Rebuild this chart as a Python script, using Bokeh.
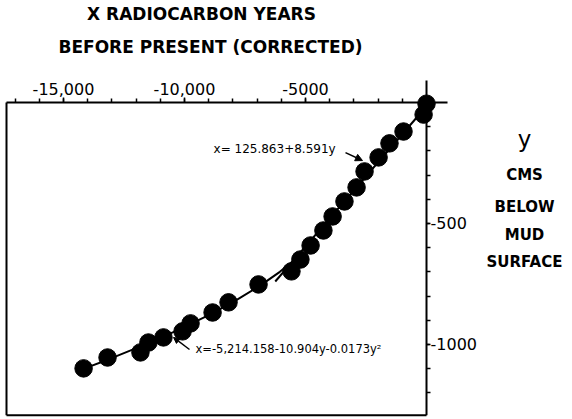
from bokeh.plotting import figure
from bokeh.models import LinearAxis, FixedTicker, Label, Arrow, NormalHead, Range1d
from bokeh.embed import file_html
from bokeh.resources import INLINE

# ---- data ----
years = [0, -120, -950, -1530, -1980, -2560, -2890, -3390, -3880, -4260, -4790,
         -5210, -5580, -6940, -8180, -8840, -9750, -10080, -10870, -11490,
         -11820, -13180, -14170]
depth = [-5, -50, -120, -169, -227, -285, -351, -409, -471, -529, -591,
         -649, -698, -752, -826, -868, -913, -946, -971, -992,
         -1033, -1054, -1099]

lin_fit_x = [130, -6250]
lin_fit_y = [0, -740]

quad_fit_x = [-5320, -6060, -6920, -7910, -9020, -10250, -11610, -13090, -14150]
quad_fit_y = [-640, -700, -760, -820, -880, -940, -1000, -1060, -1100]

x_major = [-15000, -10000, -5000]
x_labels = ["-15,000", "-10,000", "-5000"]
x_minor = [-17000, -16000, -15000, -14000, -13000, -12000, -11000, -10000, -9000,
           -8000, -7000, -6000, -5000, -4000, -3000, -2000, -1000]
y_major = [-500, -1000]
y_labels = ["-500", "-1000"]
y_minor = [-100, -200, -300, -400, -500, -600, -700, -800, -900, -1000, -1100, -1200]

# box / axis extents (data units)
box_left = -17355
box_bottom = -1293
xaxis_end = 868
yaxis_top = 91

FONT = "DejaVu Sans"

p = figure(width=570, height=417, output_backend="svg", toolbar_location=None,
           x_axis_location=None, y_axis_location=None, title=None,
           x_range=Range1d(-17603, 5950), y_range=Range1d(-1302, 421.5))
p.min_border = 0
p.min_border_left = 0
p.min_border_right = 0
p.min_border_top = 0
p.min_border_bottom = 0
p.outline_line_color = None
p.xgrid.grid_line_color = None
p.ygrid.grid_line_color = None
p.background_fill_color = "white"
p.border_fill_color = "white"

# axes crossing at the origin (ticks + labels only; lines drawn below)
xaxis = LinearAxis(fixed_location=0,
                   ticker=FixedTicker(ticks=x_major, minor_ticks=x_minor),
                   major_label_overrides=dict(zip(x_major, x_labels)))
yaxis = LinearAxis(fixed_location=0,
                   ticker=FixedTicker(ticks=y_major, minor_ticks=y_minor),
                   major_label_overrides=dict(zip(y_major, y_labels)))
for ax in (xaxis, yaxis):
    ax.axis_line_color = None
    ax.major_tick_out = 5
    ax.major_tick_in = 0
    ax.minor_tick_out = 4
    ax.minor_tick_in = 0
    ax.major_tick_line_width = 1.5
    ax.minor_tick_line_width = 1.5
    ax.major_tick_line_color = "black"
    ax.minor_tick_line_color = "black"
    ax.major_label_text_font = FONT
    ax.major_label_text_font_size = "16px"
    ax.major_label_text_color = "black"
    ax.major_label_standoff = 2
yaxis.major_tick_out = 3
yaxis.major_label_standoff = 0
p.add_layout(xaxis, "above")
p.add_layout(yaxis, "right")

# axis lines and frame borders
p.segment(x0=[box_left, 0, box_left, box_left], y0=[0, yaxis_top, 0, box_bottom],
          x1=[xaxis_end, 0, box_left, 0], y1=[0, box_bottom, box_bottom, box_bottom],
          line_color="black", line_width=2)

# fitted curves
p.line(lin_fit_x, lin_fit_y, line_color="black", line_width=2)
p.line(quad_fit_x, quad_fit_y, line_color="black", line_width=2)

# data points
p.scatter(years, depth, size=17.5, marker="circle", fill_color="black", line_color="black")

# equation annotations
p.add_layout(Label(x=-8800, y=-194, text="x= 125.863+8.591y", text_font=FONT,
                   text_font_size="12px", text_baseline="middle", text_align="left",
                   text_color="black"))
p.add_layout(Label(x=-9545, y=-1017, text="x=-5,214.158-10.904y-0.0173y²", text_font=FONT,
                   text_font_size="11.5px", text_baseline="middle", text_align="left",
                   text_color="black"))
p.add_layout(Arrow(end=NormalHead(size=7, fill_color="black", line_color="black"),
                   x_start=-3347, y_start=-207, x_end=-2645, y_end=-240,
                   line_color="black", line_width=1.5))
p.add_layout(Arrow(end=NormalHead(size=6, fill_color="black", line_color="black"),
                   x_start=-9793, y_start=-1021, x_end=-10455, y_end=-971,
                   line_color="black", line_width=1.5))

# axis titles
for txt, xx, yy in [("X RADIOCARBON YEARS", -9298, 364),
                    ("BEFORE PRESENT (CORRECTED)", -8926, 231)]:
    p.add_layout(Label(x=xx, y=yy, text=txt, text_font=FONT, text_font_size="17px",
                       text_font_style="bold", text_align="center", text_baseline="middle",
                       text_color="black"))

p.add_layout(Label(x=4050, y=-149, text="y", text_font=FONT, text_font_size="23px",
                   text_align="center", text_baseline="middle", text_color="black"))
for txt, yy in [("CMS", -298), ("BELOW", -430), ("MUD", -548), ("SURFACE", -661)]:
    p.add_layout(Label(x=4050, y=yy, text=txt, text_font=FONT, text_font_size="15px",
                       text_font_style="bold", text_align="center", text_baseline="middle",
                       text_color="black"))

open("out.html", "w").write(file_html(p, INLINE))
